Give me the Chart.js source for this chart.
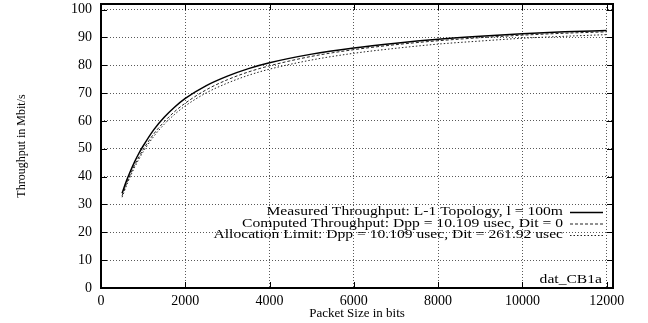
<!DOCTYPE html>
<html>
<head>
<meta charset="utf-8">
<script src="https://cdn.jsdelivr.net/npm/chart.js@4.4.0/dist/chart.umd.min.js"></script>
<style>
  html, body { margin: 0; padding: 0; background: #fff; }
</style>
</head>
<body>
<canvas id="chart" width="648" height="323"></canvas>
<script>
// ================== DATA ==================
const packetSizes = [500, 600, 700, 800, 900, 1000, 1250, 1500, 1750, 2000, 2500, 3000, 3500, 4000, 5000, 6000, 7000, 8000, 9000, 10000, 11000, 12000];
const measured   = [34.0, 38.3, 42.0, 45.4, 48.4, 51.0, 56.8, 61.3, 65.0, 68.1, 72.7, 76.1, 78.8, 80.9, 84.0, 86.2, 87.9, 89.3, 90.4, 91.3, 92.0, 92.5];
const computed   = [33.1, 37.2, 40.9, 44.2, 47.1, 49.7, 55.3, 59.7, 63.4, 66.4, 71.2, 74.8, 77.6, 79.8, 83.2, 85.6, 87.4, 88.8, 89.9, 90.8, 91.5, 92.0];
const allocLimit = [32.6, 36.6, 40.2, 43.4, 46.3, 48.9, 54.4, 58.8, 62.4, 65.4, 70.1, 73.6, 76.4, 78.6, 81.9, 84.3, 86.1, 87.6, 88.7, 89.7, 90.4, 91.0];

const seriesLabels = [
    'Measured Throughput: L-1 Topology, l = 100m',
    'Computed Throughput: Dpp = 10.109 usec, Dit = 0',
    'Allocation Limit: Dpp = 10.109 usec, Dit = 261.92 usec'
];
const xTicks = [0, 2000, 4000, 6000, 8000, 10000, 12000];
const yTicks = [0, 10, 20, 30, 40, 50, 60, 70, 80, 90, 100];
const xTitle = 'Packet Size in bits';
const yTitle = 'Throughput in Mbit/s';
const plotNote = 'dat_CB1a';

const SERIF = "'Liberation Serif', 'DejaVu Serif', serif";

function toPoints(values) {
    return packetSizes.map((x, i) => ({ x: x, y: values[i] }));
}

// ================== FRAME / LEGEND PLUGIN ==================
const gnuplotFrame = {
    id: 'gnuplotFrame',
    afterDraw(chart) {
        const { ctx, chartArea: a, scales } = chart;
        ctx.save();

        // inward tick marks on all four sides
        ctx.strokeStyle = '#000';
        ctx.lineWidth = 1;
        ctx.setLineDash([]);
        ctx.beginPath();
        scales.x.ticks.forEach(t => {
            const px = Math.round(scales.x.getPixelForValue(t.value)) + 0.5;
            ctx.moveTo(px, a.bottom); ctx.lineTo(px, a.bottom - 6);
            ctx.moveTo(px, a.top); ctx.lineTo(px, a.top + 6);
        });
        scales.y.ticks.forEach(t => {
            const py = Math.round(scales.y.getPixelForValue(t.value)) + 0.5;
            ctx.moveTo(a.left, py); ctx.lineTo(a.left + 6, py);
            ctx.moveTo(a.right, py); ctx.lineTo(a.right - 6, py);
        });
        ctx.stroke();

        // border box
        ctx.lineWidth = 2;
        ctx.strokeRect(a.left, a.top, a.right - a.left, a.bottom - a.top);

        // legend, text right aligned with the sample to its right
        const rowY = [212, 223.5, 235];
        const textRight = 563;
        ctx.fillStyle = '#000';
        ctx.font = '12px ' + SERIF;
        ctx.textBaseline = 'middle';
        ctx.textAlign = 'right';
        chart.data.datasets.forEach((ds, i) => {
            ctx.save();
            ctx.translate(textRight, rowY[i]);
            ctx.scale(1.3, 1);
            ctx.fillText(ds.label, 0, 0);
            ctx.restore();

            ctx.save();
            ctx.strokeStyle = ds.borderColor;
            ctx.lineWidth = ds.borderWidth;
            ctx.setLineDash(ds.borderDash || []);
            ctx.beginPath();
            ctx.moveTo(570, rowY[i] + 0.5);
            ctx.lineTo(603, rowY[i] + 0.5);
            ctx.stroke();
            ctx.restore();
        });

        // data file note, bottom right
        ctx.save();
        ctx.translate(602, 280);
        ctx.scale(1.3, 1);
        ctx.fillText(plotNote, 0, 0);
        ctx.restore();

        ctx.restore();
    }
};

// ================== CHART ==================
const ctx = document.getElementById('chart').getContext('2d');

const chart = new Chart(ctx, {
    type: 'line',
    data: {
        datasets: [
            { label: seriesLabels[0], data: toPoints(measured), borderColor: '#000', borderWidth: 1.5, borderDash: [], pointRadius: 0, fill: false, cubicInterpolationMode: 'monotone' },
            { label: seriesLabels[1], data: toPoints(computed), borderColor: '#222', borderWidth: 1, borderDash: [3, 2], pointRadius: 0, fill: false, cubicInterpolationMode: 'monotone' },
            { label: seriesLabels[2], data: toPoints(allocLimit), borderColor: '#222', borderWidth: 1, borderDash: [1.5, 2], pointRadius: 0, fill: false, cubicInterpolationMode: 'monotone' }
        ]
    },
    options: {
        responsive: false,
        animation: false,
        layout: { padding: { left: 0, right: 35, top: 4, bottom: 0 } },
        plugins: {
            legend: { display: false },
            tooltip: { enabled: false }
        },
        scales: {
            x: {
                type: 'linear',
                min: 0,
                max: 12150,
                afterBuildTicks: scale => { scale.ticks = xTicks.map(v => ({ value: v })); },
                afterFit: scale => { scale.height = 35; scale.paddingLeft = 0; scale.paddingRight = 0; },
                ticks: { autoSkip: false, maxRotation: 0, padding: 5, color: '#000', font: { family: SERIF, size: 14 }, callback: v => String(v) },
                grid: { color: 'rgba(0,0,0,0.65)', lineWidth: 1, drawTicks: false },
                border: { display: false, dash: [1, 2] },
                title: { display: true, text: xTitle, color: '#000', font: { family: SERIF, size: 13 }, padding: { top: 0, bottom: 2 } }
            },
            y: {
                type: 'linear',
                min: 0,
                max: 102,
                afterBuildTicks: scale => { scale.ticks = yTicks.map(v => ({ value: v })); },
                afterFit: scale => { scale.width = 101; scale.paddingTop = 0; scale.paddingBottom = 0; },
                ticks: { autoSkip: false, padding: 9, color: '#000', font: { family: SERIF, size: 14 }, callback: v => String(v) },
                grid: { color: 'rgba(0,0,0,0.65)', lineWidth: 1, drawTicks: false },
                border: { display: false, dash: [1, 2] },
                title: { display: true, text: yTitle, color: '#000', font: { family: SERIF, size: 12 }, padding: { top: 15, bottom: 0 } }
            }
        }
    },
    plugins: [gnuplotFrame]
});
</script>
</body>
</html>
